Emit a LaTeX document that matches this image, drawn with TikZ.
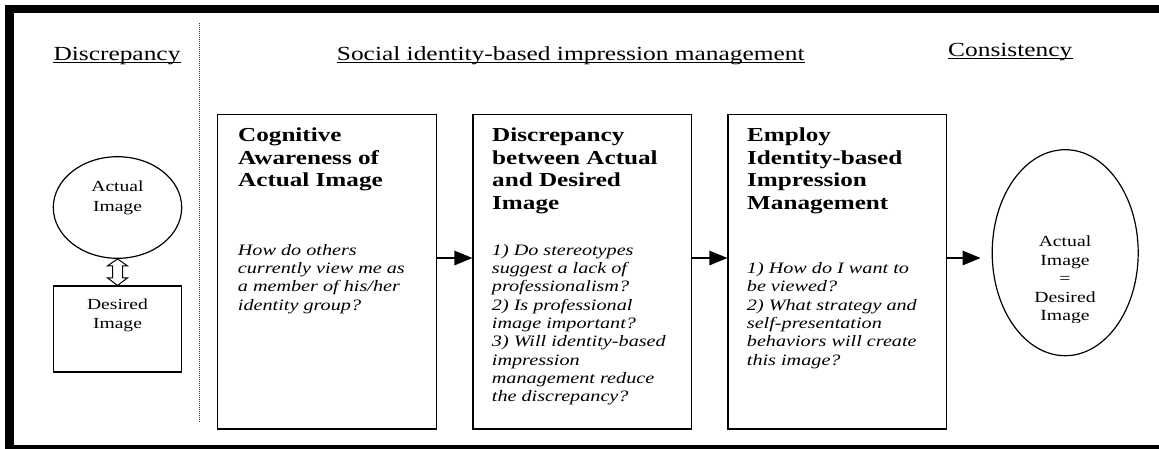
\documentclass[tikz,border=0pt]{standalone}
\usepackage{fontspec}
\setmainfont[FakeStretch=1.27]{Liberation Serif}
\usetikzlibrary{shapes.geometric,arrows.meta,calc}

\begin{document}
\begin{tikzpicture}[x=1pt,y=-1pt,
  hdr/.style={anchor=base west,inner sep=0,font=\fontsize{20}{24}\selectfont},
  ttl/.style={anchor=north west,inner sep=0,align=left,font=\fontsize{19.8}{22.5}\selectfont\bfseries},
  qst/.style={anchor=north west,inner sep=0,align=left,font=\fontsize{15.9}{18.3}\selectfont\itshape},
  lbl/.style={anchor=north,inner sep=0,align=center,font=\fontsize{15.4}{19.5}\selectfont},
  stagebox/.style={draw,line width=1.2pt,rectangle,inner sep=0,minimum height=314.5pt},
  oval/.style={draw,ellipse,line width=1.2pt,inner sep=0},
  flow/.style={line width=1.2pt,-{Triangle[length=18pt,width=14.5pt]}},
  uline/.style={line width=1pt},
  divider/.style={line width=0.9pt,black!80,dash pattern=on 1pt off 1pt},
  dblarrow/.style={draw,line width=1pt,fill=white,line join=miter}
]
\useasboundingbox (0,0) rectangle (1159,448);
\clip (0,0) rectangle (1159,448);

% heavy outer frame (open on the right)
\draw[line width=8.2pt] (1175,8.6) -- (9.4,8.6) -- (9.4,448.6) -- (1175,448.6);

% column headings
\node[hdr] (hd1) at (53.3,60) {Discrepancy};
\node[hdr] (hd2) at (336.7,60) {Social identity-based impression management};
\node[hdr] (hd3) at (948,56) {Consistency};
\foreach \n in {hd1,hd2,hd3}
  \draw[uline] ([yshift=-2.3pt]\n.base west) -- ([yshift=-2.3pt]\n.base east);

% dotted divider
\coordinate (dvt) at (199.5,22.7);
\coordinate (dvb) at (199.5,422.7);
\draw[divider] (dvt) -- (dvb);

% discrepancy: actual vs desired image
\node[oval,minimum width=128.4pt,minimum height=101.6pt] (act) at (117.5,207.5) {};
\node[lbl] (actT) at (117.5,178.1) {\strut Actual\\Image};
\node[draw,line width=1.2pt,inner sep=0,minimum width=128.4pt,minimum height=86pt] (des) at (117.5,329) {};
\node[lbl] (desT) at (117.5,295.4) {\strut Desired\\Image};
\draw[dblarrow] (act.south) -- ++(10,7) -- ++(-5,0) -- ($(des.north)+(5,-7.5)$) -- ++(5,0)
  -- (des.north) -- ++(-10,-7.5) -- ++(5,0) -- ($(act.south)+(-5,7)$) -- ++(-5,0) -- cycle;

% three process stages
\node[stagebox,minimum width=219.2pt] (b1) at (327.1,271.75) {};
\node[stagebox,minimum width=218.7pt] (b2) at (582.35,271.75) {};
\node[stagebox,minimum width=218.7pt] (b3) at (837.35,271.75) {};

\node[ttl] (t1) at (238,125.95) {\strut Cognitive\\Awareness of\\Actual Image};
\node[ttl] (t2) at (492,125.95) {\strut Discrepancy\\between Actual\\and Desired\\Image};
\node[ttl] (t3) at (747,125.95) {\strut Employ\\Identity-based\\Impression\\Management};

\node[qst] (q1) at (237.7,242.2) {\strut How do others\\currently view me as\\a member of his/her\\identity group?};
\node[qst] (q2) at (491.7,242.2) {\strut 1) Do stereotypes\\suggest a lack of\\professionalism?\\2) Is professional\\image important?\\3) Will identity-based\\impression\\management reduce\\the discrepancy?};
\node[qst] (q3) at (746.7,260.5) {\strut 1) How do I want to\\be viewed?\\2) What strategy and\\self-presentation\\behaviors will create\\this image?};

% consistency outcome
\node[oval,minimum width=146pt,minimum height=206pt] (res) at (1065.2,252.7) {};
\begin{scope}
  \clip (990,225) rectangle (1140,322.5);
  \node[lbl,font=\fontsize{15.5}{18.5}\selectfont] (resT) at (1065,233.75) {\strut Actual\\Image\\=\\Desired\\Image};
\end{scope}

% flow arrows
\draw[flow] ([yshift=13.75pt]b1.east) -- ([yshift=13.75pt]b2.west);
\draw[flow] ([yshift=13.75pt]b2.east) -- ([yshift=13.75pt]b3.west);
\draw[flow,shorten >=11pt] ([yshift=13.75pt]b3.east) -- ([yshift=13.75pt]b3.east -| res.west);
\end{tikzpicture}
\end{document}
